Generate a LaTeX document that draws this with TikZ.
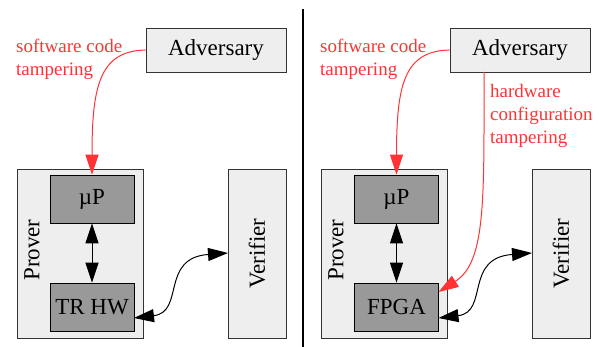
\documentclass[tikz,border=0pt]{standalone}
\usepackage{fontspec}
\setmainfont{Liberation Serif}
\usetikzlibrary{arrows.meta}
\definecolor{lightbox}{HTML}{EEEEEE}
\definecolor{darkbox}{HTML}{999999}
\definecolor{attack}{HTML}{FF3333}
\begin{document}
\begin{tikzpicture}[x=1pt,y=-1pt,
  outerbox/.style={draw=black!80,line width=0.8pt,fill=lightbox,inner sep=0pt},
  innerbox/.style={draw=black,line width=0.8pt,fill=darkbox,inner sep=0pt},
  mainfont/.style={font=\fontsize{23}{27}\selectfont},
  redlabel/.style={text=attack,font=\fontsize{19}{23}\selectfont,align=left,inner sep=0pt,anchor=west},
  tip/.style={-{Triangle[length=20pt,width=13pt]}},
  bitip/.style={{Triangle[length=20pt,width=13pt]}-{Triangle[length=20pt,width=13pt]}},
  redline/.style={draw=attack,line width=1pt,tip,attack},
  blackline/.style={draw=black,line width=1pt,bitip}]
\useasboundingbox (0,0) rectangle (599,347);

% ---------- left panel ----------
\node[outerbox,mainfont,minimum width=140pt,minimum height=44pt] (advL) at (216,50) {Adversary};
\node[outerbox,minimum width=126pt,minimum height=169pt] (provL) at (80,253.5) {};
\node[mainfont,rotate=90] (provLtxt) at (32,250) {Prover};
\node[innerbox,mainfont,minimum width=84pt,minimum height=48pt] (upL) at (92,199) {µP};
\node[innerbox,mainfont,minimum width=84pt,minimum height=48pt] (hwL) at (92,307) {TR HW};
\node[outerbox,minimum width=58pt,minimum height=169pt] (verL) at (257,253.5) {};
\node[mainfont,rotate=90] (verLtxt) at (257,253.5) {Verifier};
\node[redlabel] (swL) at (16,59) {software code\\tampering};

\draw[redline] (advL.west) .. controls (100,51) and (92,85) .. (upL.north);
\draw[blackline] (upL.south) -- (hwL.north);
\coordinate (hwLe) at (134,318);
\coordinate (verLw) at (228,253);
\draw[blackline] (hwLe) .. controls (185,312) and (160,258) .. (verLw);

% ---------- divider ----------
\coordinate (divtop) at (303,9);
\coordinate (divbot) at (303,347);
\draw[line width=1.8pt] (divtop) -- (divbot);

% ---------- right panel ----------
\node[outerbox,mainfont,minimum width=140pt,minimum height=44pt] (advR) at (520,50) {Adversary};
\node[outerbox,minimum width=126pt,minimum height=169pt] (provR) at (384.5,253.5) {};
\node[mainfont,rotate=90] (provRtxt) at (336,250) {Prover};
\node[innerbox,mainfont,minimum width=84pt,minimum height=48pt] (upR) at (396.5,199) {µP};
\node[innerbox,mainfont,minimum width=84pt,minimum height=48pt] (fpga) at (396.5,307) {FPGA};
\node[outerbox,minimum width=58pt,minimum height=169pt] (verR) at (561,253.5) {};
\node[mainfont,rotate=90] (verRtxt) at (561,253.5) {Verifier};
\node[redlabel] (swR) at (320,59) {software code\\tampering};
\node[redlabel] (hwlab) at (490,116) {hardware\\configuration\\tampering};

\draw[redline] (advR.west) .. controls (404,51) and (396.5,85) .. (upR.north);
\coordinate (advRs) at (484,72);
\coordinate (fpgaNE) at (438.5,292);
\draw[redline] (advRs) .. controls (484,200) and (486,262) .. (fpgaNE);
\draw[blackline] (upR.south) -- (fpga.north);
\coordinate (fpgaE) at (438.5,318);
\coordinate (verRw) at (532,253);
\draw[blackline] (fpgaE) .. controls (489,312) and (464,258) .. (verRw);
\end{tikzpicture}
\end{document}
